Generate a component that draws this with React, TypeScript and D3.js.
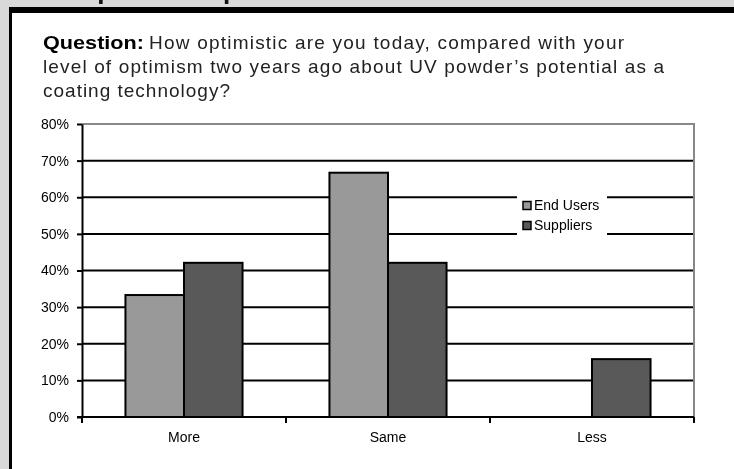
import * as React from 'react';
import {useEffect, useRef} from 'react';
import * as d3 from 'd3';

const categories = ['More', 'Same', 'Less'];
const seriesNames = ['End Users', 'Suppliers'];
const endUsers = [33.3, 66.7, 0];
const suppliers = [42.1, 42.1, 15.8];
const yTicks = [0, 10, 20, 30, 40, 50, 60, 70, 80];
const seriesColors = ['#999999', '#595959'];

const W = 734;
const H = 469;
const FONT = '"Liberation Sans", Arial, sans-serif';

export default function App() {
  const ref = useRef<SVGSVGElement>(null);

  useEffect(() => {
    const svg = d3.select(ref.current);
    svg.selectAll('*').remove();

    // page background and frame
    svg.append('rect').attr('width', W).attr('height', H).attr('fill', '#d9d9d9');
    svg.append('rect').attr('x', 10).attr('y', 7).attr('width', W).attr('height', H).attr('fill', '#fff');
    svg.append('rect').attr('x', 9).attr('y', 7).attr('width', W).attr('height', 6).attr('fill', '#000');
    svg.append('rect').attr('x', 9).attr('y', 7).attr('width', 3).attr('height', H).attr('fill', '#000');

    // heading, cut off by the top edge as in the source page
    svg.append('text')
      .attr('x', 77).attr('y', -1)
      .style('font', `bold 26px ${FONT}`)
      .attr('fill', '#111')
      .text('Optimism Up');

    // question text
    const tf = `19px ${FONT}`;
    svg.append('text').attr('x', 43).attr('y', 48.5).attr('fill', '#000')
      .attr('textLength', 101).attr('lengthAdjust', 'spacingAndGlyphs')
      .style('font', `bold ${tf}`).text('Question:');
    svg.append('text').attr('x', 149).attr('y', 48.5).attr('fill', '#222')
      .attr('textLength', 475).attr('lengthAdjust', 'spacing')
      .style('font', tf).text('How optimistic are you today, compared with your');
    svg.append('text').attr('x', 43).attr('y', 72.5).attr('fill', '#222')
      .attr('textLength', 621).attr('lengthAdjust', 'spacing')
      .style('font', tf).text('level of optimism two years ago about UV powder\u2019s potential as a');
    svg.append('text').attr('x', 43).attr('y', 96.5).attr('fill', '#222')
      .attr('textLength', 187).attr('lengthAdjust', 'spacing')
      .style('font', tf).text('coating technology?');

    // scales
    const x = d3.scaleBand<string>()
      .domain(categories)
      .range([82, 694])
      .paddingInner(0.426)
      .paddingOuter(0.213);
    const xSub = d3.scaleBand<string>()
      .domain(seriesNames)
      .range([0, x.bandwidth()]);
    const y = d3.scaleLinear().domain([0, 80]).range([417, 124]);

    const left = x.range()[0];
    const right = x.range()[1];

    // gridlines
    svg.append('g')
      .selectAll('line')
      .data(yTicks.filter(t => t > 0 && t < 80))
      .join('line')
      .attr('x1', left).attr('x2', right)
      .attr('y1', d => y(d)).attr('y2', d => y(d))
      .attr('stroke', '#000').attr('stroke-width', 2);

    // plot border (top and right)
    svg.append('path')
      .attr('d', `M${left},${y(80)}H${right}V${y(0)}`)
      .attr('fill', 'none').attr('stroke', '#888').attr('stroke-width', 2);

    // legend box
    const lg = svg.append('g');
    lg.append('rect').attr('x', 517).attr('y', 190).attr('width', 90).attr('height', 52).attr('fill', '#fff');
    const li = lg.selectAll('g')
      .data(seriesNames)
      .join('g')
      .attr('transform', (d, i) => `translate(523,${201.5 + i * 20})`);
    li.append('rect')
      .attr('width', 8).attr('height', 8)
      .attr('fill', (d, i) => seriesColors[i])
      .attr('stroke', '#000').attr('stroke-width', 1.5);
    li.append('text')
      .attr('x', 11).attr('y', 8.5)
      .style('font', `14px ${FONT}`)
      .attr('fill', '#000')
      .text(d => d);

    // bars
    const rows = categories.map((c, i) => ({c, vals: [endUsers[i], suppliers[i]]}));
    svg.append('g')
      .selectAll('g')
      .data(rows)
      .join('g')
      .attr('transform', d => `translate(${x(d.c)},0)`)
      .selectAll('rect')
      .data(d => d.vals.map((v, i) => ({name: seriesNames[i], v, i})).filter(e => e.v > 0))
      .join('rect')
      .attr('x', d => xSub(d.name)!)
      .attr('width', xSub.bandwidth())
      .attr('y', d => y(d.v))
      .attr('height', d => y(0) - y(d.v))
      .attr('fill', d => seriesColors[d.i])
      .attr('stroke', '#000').attr('stroke-width', 2);

    // y axis
    const yAxis = svg.append('g')
      .attr('transform', `translate(${left},0)`)
      .call(d3.axisLeft(y).tickValues(yTicks).tickSize(5).tickSizeOuter(0).tickPadding(8)
        .tickFormat(d => `${d}%`));
    yAxis.select('.domain').attr('stroke', '#000').attr('stroke-width', 2);
    yAxis.selectAll('.tick line').attr('stroke', '#000').attr('stroke-width', 2);
    yAxis.selectAll('.tick text').style('font', `14px ${FONT}`).attr('fill', '#000');

    // x axis
    const half = (x.step() - x.bandwidth()) / 2;
    const bounds = categories.map(c => x(c)! - half).concat([x(categories[categories.length - 1])! + x.bandwidth() + half]);
    svg.append('line')
      .attr('x1', left - 5).attr('x2', right)
      .attr('y1', y(0)).attr('y2', y(0))
      .attr('stroke', '#000').attr('stroke-width', 2);
    svg.append('g')
      .selectAll('line')
      .data(bounds)
      .join('line')
      .attr('x1', d => d).attr('x2', d => d)
      .attr('y1', y(0)).attr('y2', y(0) + 6)
      .attr('stroke', '#000').attr('stroke-width', 2);
    svg.append('g')
      .selectAll('text')
      .data(categories)
      .join('text')
      .attr('x', d => x(d)! + x.bandwidth() / 2)
      .attr('y', 442)
      .attr('text-anchor', 'middle')
      .style('font', `14px ${FONT}`)
      .attr('fill', '#000')
      .text(d => d);
  }, []);

  return (
    <svg
      ref={ref}
      width={W}
      height={H}
      style={{position: 'fixed', left: 0, top: 0, display: 'block'}}
    />
  );
}
